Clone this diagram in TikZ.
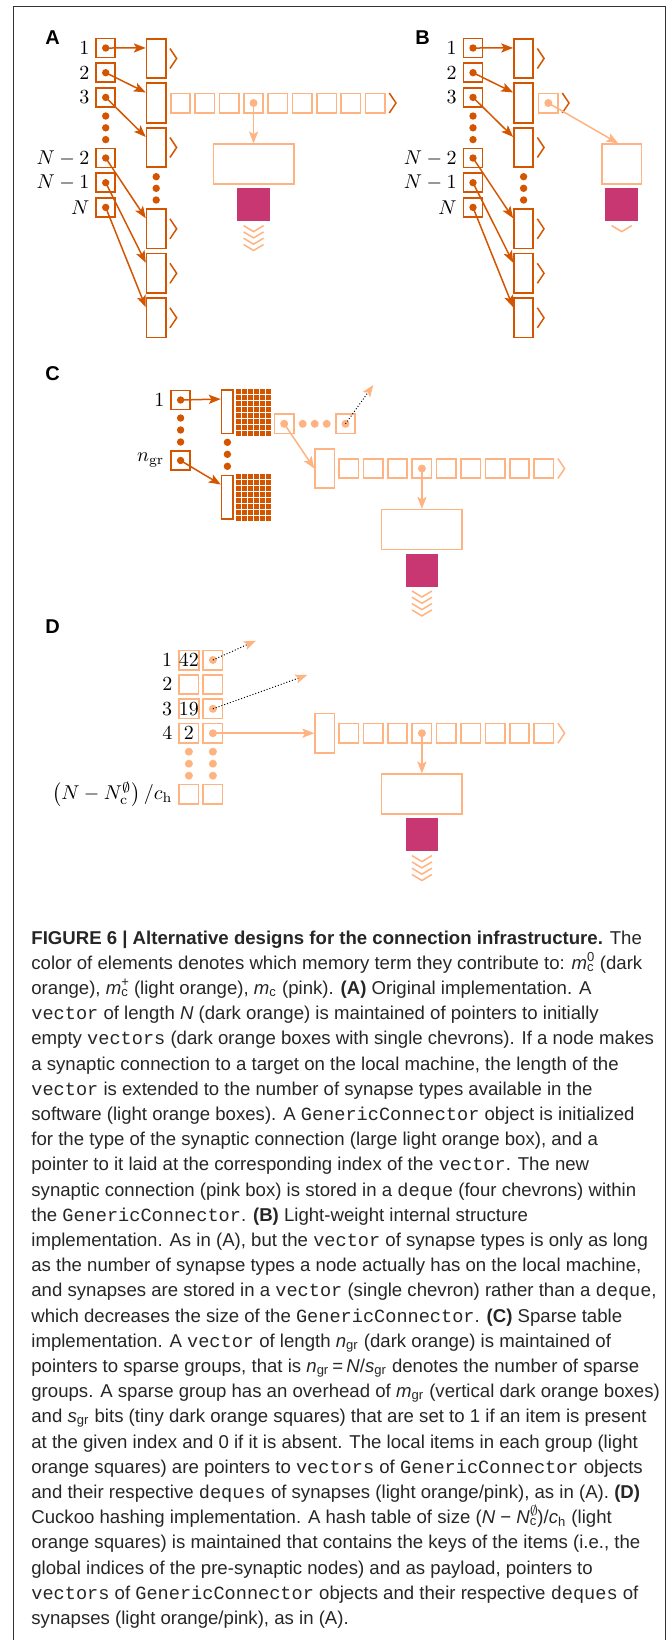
\documentclass[tikz,border=0pt]{standalone}
\usepackage[no-math]{fontspec}
\setmainfont{Liberation Sans}
\setmonofont{Liberation Mono}
\usetikzlibrary{arrows.meta,positioning,calc}
\definecolor{darkor}{HTML}{D45500}
\definecolor{lightor}{HTML}{FFB380}
\definecolor{synpink}{HTML}{C83771}
\newcommand{\mysubsup}[2]{\rlap{\textsuperscript{#2}}\textsubscript{#1}}
\tikzset{
    idxbox/.style  = {draw=darkor, line width=0.85pt, minimum size=9.5pt, inner sep=0pt},
    vecbox/.style  = {draw=darkor, line width=0.85pt, minimum width=9.6pt,
            minimum height=19.7pt, inner sep=0pt},
    grpbox/.style  = {draw=darkor, line width=0.85pt, minimum width=5.8pt,
            minimum height=21.8pt, inner sep=0pt},
    itembox/.style = {draw=lightor, line width=0.8pt, minimum size=9.7pt, inner sep=0pt},
    headbox/.style = {draw=lightor, line width=0.8pt, minimum width=9.6pt,
            minimum height=19.7pt, inner sep=0pt},
    connbox/.style = {draw=lightor, line width=0.8pt, minimum width=40.3pt,
            minimum height=20pt, inner sep=0pt},
    synbox/.style  = {fill=synpink, minimum size=16.4pt, inner sep=0pt},
    darr/.style    = {-{Stealth[length=6pt,width=4.6pt,inset=1.4pt]}, draw=darkor, line width=0.75pt},
    larr/.style    = {-{Stealth[length=6pt,width=4.6pt,inset=1.4pt]}, draw=lightor, line width=0.75pt},
    ptrarr/.style  = {-{Stealth[length=6pt,width=4.6pt,inset=1.4pt,color=lightor]},
            draw=black, densely dotted, line width=0.5pt},
    chev/.style    = {line width=0.75pt},
    lbl/.style     = {inner sep=2.8pt, font=\fontsize{10}{12}\selectfont},
    panel/.style   = {anchor=base west, inner sep=0pt, font=\fontsize{10}{12}\selectfont\bfseries},
    captxt/.style  = {anchor=base west, inner sep=0pt, text=black!85,
            font=\fontsize{9.3}{12.6}\selectfont},
}
\begin{document}
\begin{tikzpicture}[x=0.5pt, y=-0.5pt]
    \useasboundingbox (0,0) rectangle (671,1640);
    \draw[black!80, line width=0.5pt] (13.3,1650) -- (13.3,6) -- (665.3,6) -- (665.3,1650);

    % ---------------- A: original implementation
    \node[panel] (labA) at (45,44) {A};
    \foreach \n/\y in {1/48, 2/72.7, 3/97.4, 4/158, 5/182.7, 6/207.4}
        \node[idxbox] (a\n) at (105.7,\y) {};
    \foreach \n/\t in {1/$1$, 2/$2$, 3/$3$, 4/$N-2$, 5/$N-1$, 6/$N$}
        \node[lbl, left=0pt of a\n] (la\n) {\t};
    \foreach \y in {116,127.8,139.6}
        \fill[darkor] (105.7,\y) circle (1.85pt);
    \foreach \n/\y in {1/58.5, 2/103, 3/147.5, 4/228.8, 5/273.3, 6/317.8}
        \node[vecbox] (v\n) at (156.2,\y) {};
    \foreach \y in {176.7,188.3,200}
        \fill[darkor] (156.2,\y) circle (1.85pt);
    \foreach \n in {1,3,4,5,6}
        \draw[chev, darkor] ($(v\n.east)+(3.3,-10)$) -- ++(6.7,10) -- ++(-6.7,10);
    \foreach \n in {1,...,6}{
        \fill[darkor] (a\n) circle (1.85pt);
        \draw[darr] (a\n.center) -- ($(v\n.north west)+(0,10)$);
    }
    % synapse types
    \foreach \k in {0,...,8}
        \node[itembox] (ar\k) at ({180.5+24.35*\k},103) {};
    \draw[chev, darkor] ($(ar8.east)+(3.5,-10)$) -- ++(6.7,10) -- ++(-6.7,10);
    \node[connbox] (ac) at (253.6,164.2) {};
    \node[synbox, below=1.5pt of ac] (as) {};
    \fill[lightor] (ar3) circle (2pt);
    \draw[larr] (ar3.center) -- (ar3.center |- ac.north);
    \foreach \d in {0,6.3,12.6,18.9}
        \draw[chev, lightor] ($(as.south)+(-10,4+\d)$) -- ++(10,6) -- ++(10,-6);

    % ---------------- B: light-weight structure
    \node[panel] (labB) at (415,44) {B};
    \foreach \n/\y in {1/48, 2/72.7, 3/97.4, 4/158, 5/182.7, 6/207.4}
        \node[idxbox] (b\n) at (473,\y) {};
    \foreach \n/\t in {1/$1$, 2/$2$, 3/$3$, 4/$N-2$, 5/$N-1$, 6/$N$}
        \node[lbl, left=0pt of b\n] (lb\n) {\t};
    \foreach \y in {116,127.8,139.6}
        \fill[darkor] (473,\y) circle (1.85pt);
    \foreach \n/\y in {1/58.5, 2/103, 3/147.5, 4/228.8, 5/273.3, 6/317.8}
        \node[vecbox] (w\n) at (523.6,\y) {};
    \foreach \y in {176.7,188.3,200}
        \fill[darkor] (523.6,\y) circle (1.85pt);
    \foreach \n in {1,3,4,5,6}
        \draw[chev, darkor] ($(w\n.east)+(3.3,-10)$) -- ++(6.7,10) -- ++(-6.7,10);
    \foreach \n in {1,...,6}{
        \fill[darkor] (b\n) circle (1.85pt);
        \draw[darr] (b\n.center) -- ($(w\n.north west)+(0,10)$);
    }
    \node[itembox] (bi) at (548.3,103) {};
    \draw[chev, darkor] ($(bi.east)+(3.5,-10)$) -- ++(6.7,10) -- ++(-6.7,10);
    \node[connbox, minimum width=19.8pt] (bc) at (621.7,164.2) {};
    \node[synbox, below=1.5pt of bc] (bs) {};
    \fill[lightor] (bi) circle (2pt);
    \draw[larr] (bi.center) -- ($(bc.north)+(-3.5,0)$);
    \draw[chev, lightor] ($(bs.south)+(-10,4)$) -- ++(10,6) -- ++(10,-6);

    % ---------------- C: sparse table
    \node[panel] (labC) at (45,380) {C};
    \node[idxbox] (c1) at (180.6,400) {};
    \node[idxbox] (c2) at (180.6,460.5) {};
    \node[lbl, left=0pt of c1] (lc1) {$1$};
    \node[lbl, left=0pt of c2] (lc2) {$n_{\mathrm{gr}}$};
    \foreach \y in {418,430,442}
        \fill[darkor] (180.6,\y) circle (1.85pt);
    \node[grpbox] (g1) at (227.4,411.7) {};
    \node[grpbox] (g2) at (227.4,497.2) {};
    \foreach \y in {442.3,454.3,466.3}
        \fill[darkor] (227.4,\y) circle (1.85pt);
    \foreach \y in {389,474.3}
        \foreach \c in {0,...,5}
            \foreach \r in {0,...,7}
                \fill[darkor] ({236+6*\c},{\y+6*\r}) rectangle ++(4.5,4.5);
    \foreach \n in {1,2}{
        \fill[darkor] (c\n) circle (1.85pt);
        \draw[darr] (c\n.center) -- ($(g\n.north west)+(0,10)$);
    }
    \node[itembox] (ci1) at (284.2,423.8) {};
    \node[itembox] (ci2) at (345.5,423.8) {};
    \foreach \x in {302.7,314.7,326.7}
        \fill[lightor] (\x,423.8) circle (2pt);
    \node[headbox] (ch) at (324.7,468.5) {};
    \foreach \k in {0,...,8}
        \node[itembox] (cr\k) at ({348.7+24.4*\k},468.5) {};
    \draw[chev, lightor] ($(cr8.east)+(3.5,-10)$) -- ++(6.7,10) -- ++(-6.7,10);
    \node[connbox] (cc) at (421.9,529.6) {};
    \node[synbox, below=1.5pt of cc] (cs) {};
    \foreach \d in {0,6.3,12.6,18.9}
        \draw[chev, lightor] ($(cs.south)+(-10,4+\d)$) -- ++(10,6) -- ++(10,-6);
    \coordinate (cp) at (373.3,385);
    \fill[lightor] (ci1) circle (2pt);
    \fill[lightor] (ci2) circle (2pt);
    \fill[lightor] (cr3) circle (2pt);
    \draw[larr] (ci1.center) -- (ch.west);
    \draw[ptrarr] (ci2.center) -- (cp);
    \draw[larr] (cr3.center) -- (cr3.center |- cc.north);

    % ---------------- D: cuckoo hashing
    \node[panel] (labD) at (45,633) {D};
    \foreach \n/\y/\key in {1/660/$42$, 2/684.4/{}, 3/708.8/$19$, 4/733.2/$2$, 5/794/{}}{
        \node[itembox, font=\fontsize{10}{12}\selectfont] (k\n) at (188.9,\y) {\key};
        \node[itembox] (p\n) at (212.9,\y) {};
    }
    \foreach \n/\t in {1/$1$, 2/$2$, 3/$3$, 4/$4$}
        \node[lbl, left=0pt of k\n] (lk\n) {\t};
    \node[lbl, left=0pt of k5] (lk5) {$\left(N-N_{\mathrm{c}}^{\emptyset}\right)/c_{\mathrm{h}}$};
    \foreach \y in {751.7,763.7,775.7}{
        \fill[lightor] (188.9,\y) circle (2pt);
        \fill[lightor] (212.9,\y) circle (2pt);
    }
    \node[headbox] (dh) at (324.7,733.2) {};
    \foreach \k in {0,...,8}
        \node[itembox] (dr\k) at ({348.7+24.4*\k},733.2) {};
    \draw[chev, lightor] ($(dr8.east)+(3.5,-10)$) -- ++(6.7,10) -- ++(-6.7,10);
    \node[connbox] (dc) at (421.9,794.2) {};
    \node[synbox, below=1.5pt of dc] (ds) {};
    \foreach \d in {0,6.3,12.6,18.9}
        \draw[chev, lightor] ($(ds.south)+(-10,4+\d)$) -- ++(10,6) -- ++(10,-6);
    \coordinate (dp1) at (255.9,640.7);
    \coordinate (dp3) at (307.2,675);
    \foreach \n in {1,3,4}
        \fill[lightor] (p\n) circle (2pt);
    \fill[lightor] (dr3) circle (2pt);
    \draw[ptrarr] (p1.center) -- (dp1);
    \draw[ptrarr] (p3.center) -- (dp3);
    \draw[larr] (p4.center) -- (dh.west);
    \draw[larr] (dr3.center) -- (dr3.center |- dc.north);

    % ---------------- caption
    \foreach \t [count=\i] in {
        {\textbf{FIGURE 6 | Alternative designs for the connection infrastructure.} The},
        {color of elements denotes which memory term they contribute to: \textit{m}\mysubsup{c}{0} (dark},
        {orange), \textit{m}\mysubsup{c}{+} (light orange), \textit{m}\textsubscript{c} (pink). \textbf{(A)} Original implementation. A},
        {\texttt{vector} of length \textit{N} (dark orange) is maintained of pointers to initially},
        {empty \texttt{vectors} (dark orange boxes with single chevrons). If a node makes},
        {a synaptic connection to a target on the local machine, the length of the},
        {\texttt{vector} is extended to the number of synapse types available in the},
        {software (light orange boxes). A \texttt{GenericConnector} object is initialized},
        {for the type of the synaptic connection (large light orange box), and a},
        {pointer to it laid at the corresponding index of the \texttt{vector}. The new},
        {synaptic connection (pink box) is stored in a \texttt{deque} (four chevrons) within},
        {the \texttt{GenericConnector}. \textbf{(B)} Light-weight internal structure},
        {implementation. As in (A), but the \texttt{vector} of synapse types is only as long},
        {as the number of synapse types a node actually has on the local machine,},
        {and synapses are stored in a \texttt{vector} (single chevron) rather than a \texttt{deque},},
        {which decreases the size of the \texttt{GenericConnector}. \textbf{(C)} Sparse table},
        {implementation. A \texttt{vector} of length \textit{n}\textsubscript{gr} (dark orange) is maintained of},
        {pointers to sparse groups, that is \textit{n}\textsubscript{gr}\,=\,\textit{N}/\textit{s}\textsubscript{gr} denotes the number of sparse},
        {groups. A sparse group has an overhead of \textit{m}\textsubscript{gr} (vertical dark orange boxes)},
        {and \textit{s}\textsubscript{gr} bits (tiny dark orange squares) that are set to 1 if an item is present},
        {at the given index and 0 if it is absent. The local items in each group (light},
        {orange squares) are pointers to \texttt{vectors} of \texttt{GenericConnector} objects},
        {and their respective \texttt{deques} of synapses (light orange/pink), as in (A). \textbf{(D)}},
        {Cuckoo hashing implementation. A hash table of size (\textit{N} − \textit{N}\mysubsup{c}{$\emptyset$})/\textit{c}\textsubscript{h} (light},
        {orange squares) is maintained that contains the keys of the items (i.e., the},
        {global indices of the pre-synaptic nodes) and as payload, pointers to},
        {\texttt{vectors} of \texttt{GenericConnector} objects and their respective \texttt{deques} of},
        {synapses (light orange/pink), as in (A).}}
        \node[captxt] (cap\i) at (31,{944+25.2*(\i-1)}) {\t};
\end{tikzpicture}
\end{document}
